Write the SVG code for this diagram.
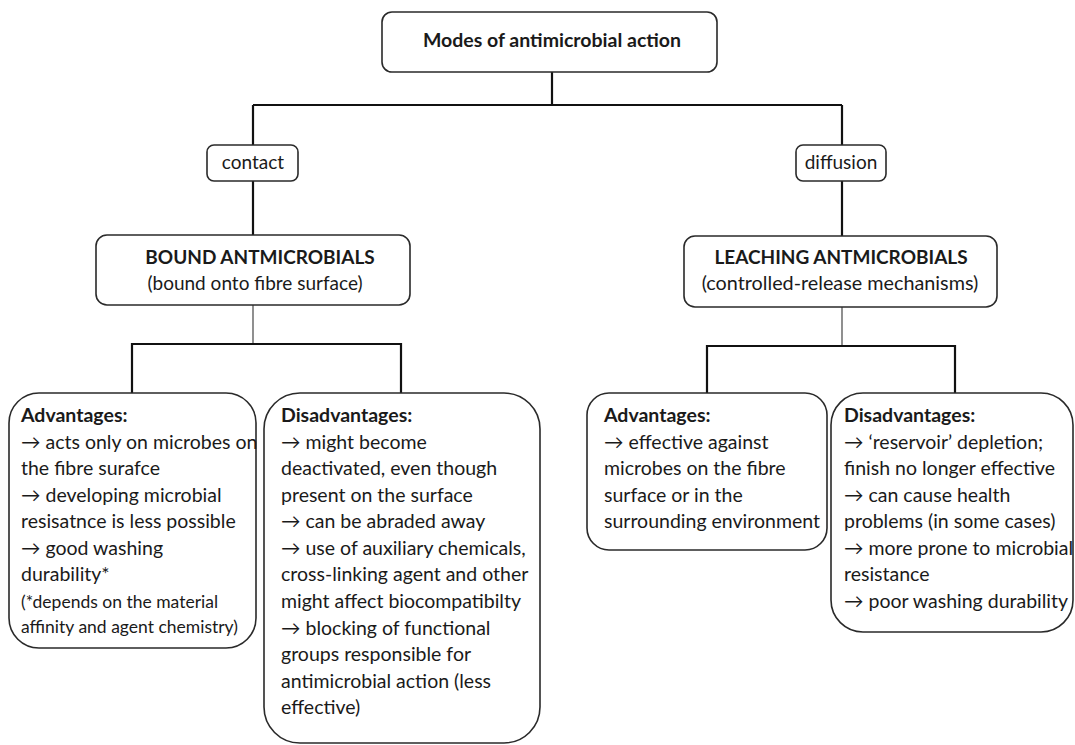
<svg xmlns="http://www.w3.org/2000/svg" width="1075" height="745" viewBox="0 0 1075 745">
  <style>
    .box { fill: #ffffff; stroke: #2a2a2a; stroke-width: 1.6; }
    .wire { fill: none; stroke: #111111; stroke-width: 2.2; }
    .thin { fill: none; stroke: #555555; stroke-width: 1.3; }
    text { font-family: "Lato", "Open Sans", "DejaVu Sans", sans-serif; fill: #1a1a1a; }
    .title { font-size: 19.5px; font-weight: bold; text-anchor: middle; }
    .head { font-size: 19px; font-weight: bold; text-anchor: middle; }
    .sub { font-size: 19px; text-anchor: middle; }
    .sub2 { font-size: 19.8px; text-anchor: middle; }
    .tag { font-size: 19px; text-anchor: middle; }
    .body { font-size: 19.5px; }
    .body .b { font-weight: bold; }
    .small { font-size: 17.5px; }
  </style>

  <!-- connectors -->
  <g id="connectors">
    <path class="wire" d="M552 72 V105 M253 105 H842 M253 105 V145 M842 105 V145"/>
    <path class="wire" d="M253 181 V235 M842 181 V236"/>
    <path class="thin" d="M253 305 V344 M842 307 V346"/>
    <path class="wire" d="M132 344 H401 M132 343 V393 M401 343 V393"/>
    <path class="wire" d="M707 346 H955 M707 345 V393 M955 345 V393"/>
  </g>

  <!-- root -->
  <g id="node-root">
    <rect class="box" x="382" y="12" width="335" height="60" rx="10"/>
    <text class="title" x="552" y="47">Modes of antimicrobial action</text>
  </g>

  <!-- branch labels -->
  <g id="node-contact">
    <rect class="box" x="207" y="145" width="91" height="36" rx="7"/>
    <text class="tag" x="253" y="169">contact</text>
  </g>
  <g id="node-diffusion">
    <rect class="box" x="796" y="145" width="90" height="36" rx="7"/>
    <text class="tag" x="841" y="169">diffusion</text>
  </g>

  <!-- category boxes -->
  <g id="node-bound">
    <rect class="box" x="96" y="235" width="314" height="70" rx="11"/>
    <text class="head" x="260" y="264">BOUND ANTMICROBIALS</text>
    <text class="sub" x="255" y="290">(bound onto fibre surface)</text>
  </g>
  <g id="node-leaching">
    <rect class="box" x="684" y="236" width="313" height="71" rx="11"/>
    <text class="head" x="841" y="264">LEACHING ANTMICROBIALS</text>
    <text class="sub2" x="840" y="290">(controlled-release mechanisms)</text>
  </g>

  <!-- bound: advantages -->
  <g id="node-bound-adv">
    <rect class="box" x="9" y="393" width="247" height="255" rx="30"/>
    <text class="body">
      <tspan class="b" x="21" y="422">Advantages:</tspan>
      <tspan x="21" y="449">→ acts only on microbes on</tspan>
      <tspan x="21" y="475">the fibre surafce</tspan>
      <tspan x="21" y="502">→ developing microbial</tspan>
      <tspan x="21" y="528">resisatnce is less possible</tspan>
      <tspan x="21" y="555">→ good washing</tspan>
      <tspan x="21" y="581">durability*</tspan>
      <tspan class="small" x="21" y="608">(*depends on the material</tspan>
      <tspan class="small" x="21" y="633">affinity and agent chemistry)</tspan>
    </text>
  </g>

  <!-- bound: disadvantages -->
  <g id="node-bound-dis">
    <rect class="box" x="264" y="393" width="276" height="350" rx="36"/>
    <text class="body">
      <tspan class="b" x="281" y="422">Disadvantages:</tspan>
      <tspan x="281" y="449">→ might become</tspan>
      <tspan x="281" y="475">deactivated, even though</tspan>
      <tspan x="281" y="502">present on the surface</tspan>
      <tspan x="281" y="528">→ can be abraded away</tspan>
      <tspan x="281" y="555">→ use of auxiliary chemicals,</tspan>
      <tspan x="281" y="581">cross-linking agent and other</tspan>
      <tspan x="281" y="608">might affect biocompatibilty</tspan>
      <tspan x="281" y="635">→ blocking of functional</tspan>
      <tspan x="281" y="661">groups responsible for</tspan>
      <tspan x="281" y="688">antimicrobial action (less</tspan>
      <tspan x="281" y="714">effective)</tspan>
    </text>
  </g>

  <!-- leaching: advantages -->
  <g id="node-leach-adv">
    <rect class="box" x="587" y="393" width="240" height="157" rx="22"/>
    <text class="body">
      <tspan class="b" x="604" y="422">Advantages:</tspan>
      <tspan x="604" y="449">→ effective against</tspan>
      <tspan x="604" y="475">microbes on the fibre</tspan>
      <tspan x="604" y="502">surface or in the</tspan>
      <tspan x="604" y="528">surrounding environment</tspan>
    </text>
  </g>

  <!-- leaching: disadvantages -->
  <g id="node-leach-dis">
    <rect class="box" x="831" y="393" width="242" height="239" rx="32"/>
    <text class="body">
      <tspan class="b" x="844" y="422">Disadvantages:</tspan>
      <tspan x="844" y="449">→ ‘reservoir’ depletion;</tspan>
      <tspan x="844" y="475">finish no longer effective</tspan>
      <tspan x="844" y="502">→ can cause health</tspan>
      <tspan x="844" y="528">problems (in some cases)</tspan>
      <tspan x="844" y="555">→ more prone to microbial</tspan>
      <tspan x="844" y="581">resistance</tspan>
      <tspan x="844" y="608">→ poor washing durability</tspan>
    </text>
  </g>
</svg>
